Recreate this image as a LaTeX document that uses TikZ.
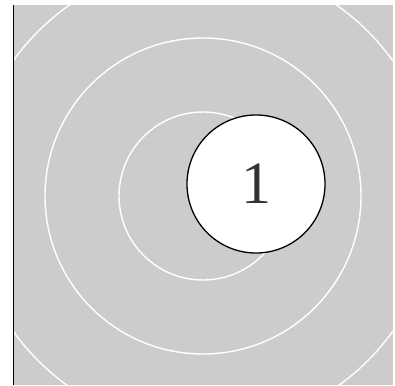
\documentclass[tikz,border=0pt]{standalone}
\usepackage{fontspec}
\setmainfont{Liberation Serif}
\begin{document}
\begin{tikzpicture}[x=1pt,y=-1pt,
  ring/.style={white,line width=1.4pt},
  bubble/.style={circle,draw=black,line width=1.3pt,fill=white,minimum size=138pt,inner sep=0pt,text=black!80,font=\fontsize{60}{60}\selectfont}]
\useasboundingbox (0,0) rectangle (395,385);
\fill[black!20] (13,5) rectangle (393,385);
\begin{scope}
\clip (13,5) rectangle (393,385);
\draw[ring] (203,196) circle[radius=84];
\draw[ring] (203,196) circle[radius=158];
\draw[ring] (203,196) circle[radius=233];
\end{scope}
\draw[black,line width=1pt] (13,5) -- (13,385);
\node[bubble] (n1) at (256,184) {\raisebox{-4pt}{1}};
\end{tikzpicture}
\end{document}
